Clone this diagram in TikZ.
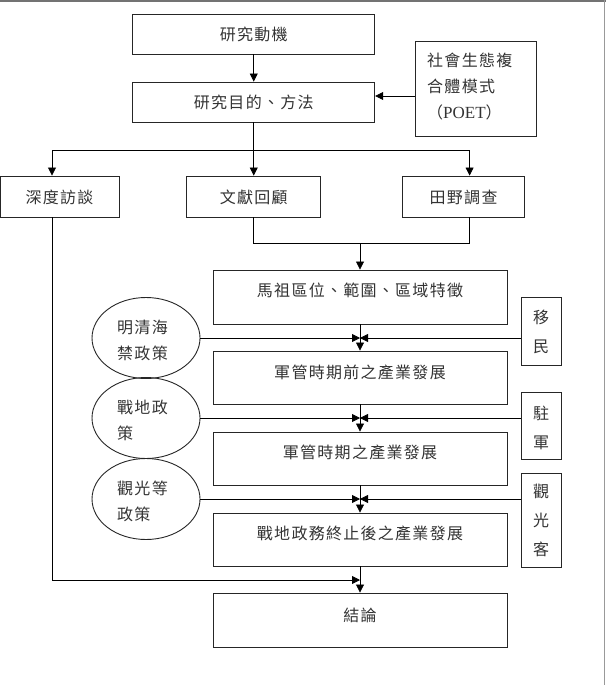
\documentclass[tikz,border=0pt]{standalone}
\usepackage{fontspec}
\setmainfont{Liberation Serif}
\newfontfamily\cjk[LetterSpace=8]{Noto Sans CJK TC}
\usetikzlibrary{arrows.meta,shapes.geometric}
\begin{document}
\begin{tikzpicture}[x=1pt,y=-1pt,
  box/.style={draw=black!85, line width=0.9pt, rectangle, inner sep=0pt},
  oval/.style={draw=black!85, line width=0.9pt, ellipse, inner sep=0pt, minimum width=108pt, minimum height=81pt},
  txt/.style={font=\cjk\fontsize{16}{16}\selectfont, text=black!80, inner sep=0pt},
  vtxt/.style={font=\cjk\fontsize{16}{29}\selectfont, text=black!80, inner sep=0pt, align=center},
  ltxt/.style={font=\cjk\fontsize{16}{26}\selectfont, text=black!80, inner sep=0pt, align=left, anchor=west},
  arr/.style={-{Triangle[length=8pt,width=8pt]}, line width=0.8pt},
  ln/.style={line width=0.8pt}]
\useasboundingbox (0,0) rectangle (606,685);
% frame
\draw[black!55, line width=2pt] (0,1) -- (606,1);
\draw[black!40, line width=1pt] (604,0) -- (604,685);

% top boxes
\node[box, minimum width=242pt, minimum height=40pt] (mot) at (253.75,34) {};
\node[txt] (motT) at (253.75,34) {研究動機};
\node[box, minimum width=242pt, minimum height=40pt] (aim) at (253.75,102) {};
\node[txt] (aimT) at (253.75,102) {研究目的、方法};
\node[box, minimum width=121pt, minimum height=95pt] (poet) at (476,88.5) {};
\node[ltxt] (poetT) at (427,87) {社會生態複\\合體模式\\（{\rmfamily\fontsize{17}{26}\selectfont POET}）};

% methods
\node[box, minimum width=119pt, minimum height=41pt] (dep) at (59.5,196.5) {};
\node[txt] (depT) at (59.5,197) {深度訪談};
\node[box, minimum width=134pt, minimum height=41pt] (lit) at (253.75,196.5) {};
\node[txt] (litT) at (253.75,197) {文獻回顧};
\node[box, minimum width=122pt, minimum height=41pt] (fld) at (463.6,196.5) {};
\node[txt] (fldT) at (463.6,197) {田野調查};

% main column
\node[box, minimum width=294pt, minimum height=54pt] (m1) at (360,297) {};
\node[txt] (m1T) at (360,290) {馬祖區位、範圍、區域特徵};
\node[box, minimum width=294pt, minimum height=53pt] (m2) at (360,377.5) {};
\node[txt] (m2T) at (360,372) {軍管時期前之產業發展};
\node[box, minimum width=294pt, minimum height=53pt] (m3) at (360,458.5) {};
\node[txt] (m3T) at (360,452) {軍管時期之產業發展};
\node[box, minimum width=294pt, minimum height=53pt] (m4) at (360,539.5) {};
\node[txt] (m4T) at (360,533) {戰地政務終止後之產業發展};
\node[box, minimum width=294pt, minimum height=54pt] (m5) at (360,620) {};
\node[txt] (m5T) at (360,615) {結論};

% ellipses
\node[oval] (e1) at (146,338) {};
\node[ltxt] (e1T) at (117,340.5) {明清海\\禁政策};
\node[oval] (e2) at (146,418) {};
\node[ltxt] (e2T) at (117,420.5) {戰地政\\策};
\node[oval] (e3) at (146,499) {};
\node[ltxt] (e3T) at (117,501.5) {觀光等\\政策};

% side boxes
\node[box, minimum width=40pt, minimum height=68pt] (s1) at (541,331) {};
\node[vtxt] (s1T) at (541,332) {移\\民};
\node[box, minimum width=40pt, minimum height=67pt] (s2) at (541,425.5) {};
\node[vtxt] (s2T) at (541,428) {駐\\軍};
\node[box, minimum width=40pt, minimum height=94pt] (s3) at (541,520) {};
\node[vtxt] (s3T) at (541,520) {觀\\光\\客};

% coordinates
\coordinate (bL) at (52,150);
\coordinate (bR) at (469.6,150);
\coordinate (jL) at (253.75,243);
\coordinate (jR) at (469.6,243);
\coordinate (k1) at (360,338);
\coordinate (k2) at (360,418);
\coordinate (k3) at (360,499);
\coordinate (q) at (52,580);

% connectors
\draw[arr] (mot) -- (aim);
\draw[arr] (poet.west |- 0,96) -- (aim.east |- 0,96);
\draw[arr] (aim) -- (lit);
\draw[ln] (bL) -- (bR);
\draw[arr] (bL) -- (dep.north -| bL);
\draw[arr] (bR) -- (fld.north -| bR);
\draw[ln] (lit.south) -- (jL) -- (jR) -- (fld.south -| jR);
\draw[arr] (m1.north |- jL) -- (m1.north);
\draw[arr] (m1) -- (m2);
\draw[arr] (m2) -- (m3);
\draw[arr] (m3) -- (m4);
\draw[arr] (m4) -- (m5);
\draw[arr] (e1.east) -- (k1);
\draw[arr] (s1.west |- k1) -- (k1);
\draw[arr] (e2.east) -- (k2);
\draw[arr] (s2.west |- k2) -- (k2);
\draw[arr] (e3.east) -- (k3);
\draw[arr] (s3.west |- k3) -- (k3);
\draw[arr] (dep.south -| q) -- (q) -- (m5.north |- q);
\end{tikzpicture}
\end{document}
